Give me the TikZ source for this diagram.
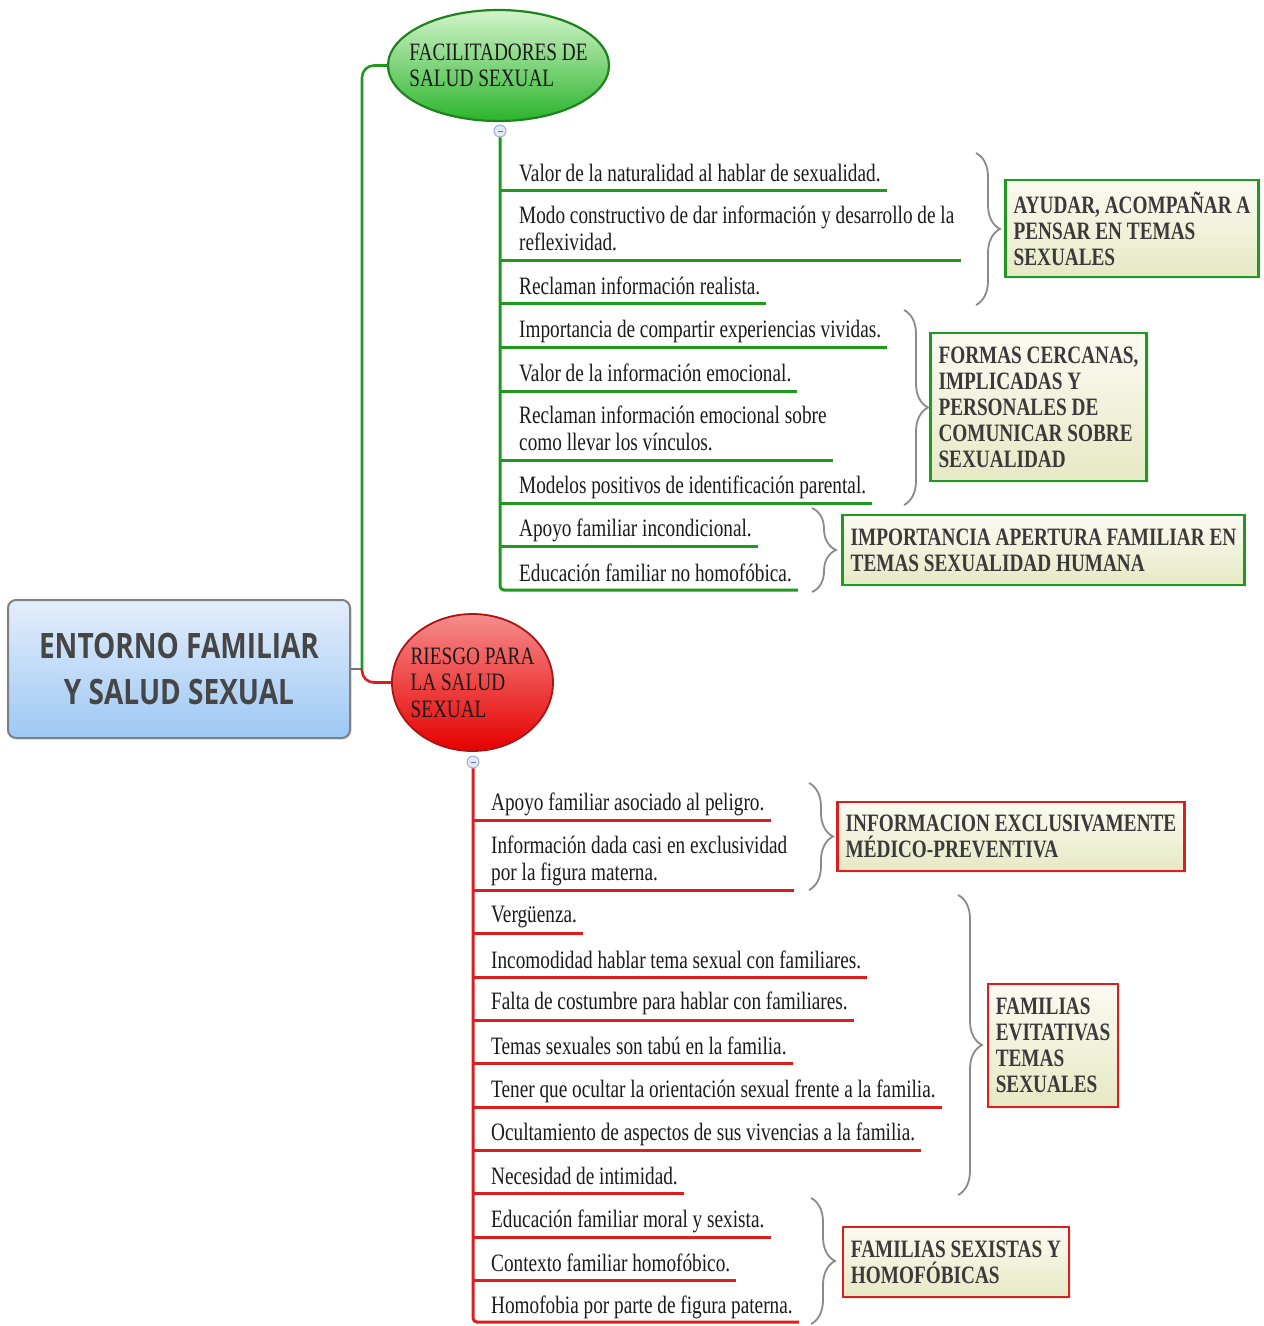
\documentclass[tikz,border=0pt]{standalone}
\usepackage{fontspec}
\setmainfont{Liberation Serif}[FakeStretch=0.77]
\newfontfamily\titlefont{Open Sans}[FakeStretch=0.8]
\usetikzlibrary{shapes.geometric,decorations.pathreplacing,shadows}
\definecolor{gline}{HTML}{1F9A1F}
\definecolor{rline}{HTML}{DC1E1E}
\definecolor{itemtxt}{HTML}{1A1A1A}
\definecolor{tagtxt}{HTML}{3A3A3A}
\definecolor{tagtop}{HTML}{FBFBF2}
\definecolor{tagbot}{HTML}{E6E9C4}
\definecolor{bracegray}{HTML}{8A8A8A}
\definecolor{titletxt}{HTML}{464646}
\definecolor{titletop}{HTML}{E4EEFB}
\definecolor{titlebot}{HTML}{9DC8F4}
\definecolor{ellborder}{HTML}{1E821E}
\definecolor{elltop}{HTML}{D2F4CA}
\definecolor{ellbot}{HTML}{2CB42C}
\definecolor{cirborder}{HTML}{AA1414}
\definecolor{cirtop}{HTML}{F68C8C}
\definecolor{cirmid}{HTML}{F02828}
\definecolor{cirbot}{HTML}{E60000}
\definecolor{btn}{HTML}{8CA5CD}
\definecolor{btndash}{HTML}{64789F}
\tikzset{
  itembase/.style={anchor=base west, inner sep=0, align=left, text=itemtxt,
    font=\fontsize{25}{27}\selectfont},
  gul/.style={draw=gline, line width=3},
  rul/.style={draw=rline, line width=3},
  tagbox/.style={line width=2.5, top color=tagtop, bottom color=tagbot,
    inner xsep=8, inner ysep=0, align=left, text=tagtxt,
    font=\bfseries\fontsize{25}{26}\selectfont,
    drop shadow={shadow xshift=2pt, shadow yshift=-2pt, opacity=0.15}},
  gtag/.style={tagbox, draw=gline},
  rtag/.style={tagbox, draw=rline},
  brc/.style={draw=bracegray, line width=1.8, decorate,
    decoration={brace, amplitude=24}},
  colbtn/.style={circle, draw=btn, line width=0.8, fill=btn!25!white,
    minimum size=12, inner sep=0},
  bubtext/.style={align=left, inner sep=0, text=itemtxt,
    font=\fontsize{25}{26.5}\selectfont}
}
\begin{document}
\begin{tikzpicture}[x=1pt,y=-1pt]
\useasboundingbox (0,0) rectangle (1264,1326);

% central title
\node[draw=black!50, line width=2, rounded corners=8,
      top color=titletop, bottom color=titlebot,
      minimum width=342, minimum height=138, align=center, text=titletxt,
      font=\titlefont\bfseries\fontsize{35}{46}\selectfont,
      drop shadow={shadow xshift=2pt, shadow yshift=-2pt, opacity=0.15}]
  (title) at (179,669) {ENTORNO FAMILIAR\\Y SALUD SEXUAL};

% main topics
\node[ellipse, draw=ellborder, line width=2.2,
      top color=elltop, bottom color=ellbot,
      minimum width=221, minimum height=111, inner sep=0] (fac) at (498.5,65.5) {};
\node[bubtext] (factxt) at (fac.center) {FACILITADORES DE\\SALUD SEXUAL};

\node[ellipse, draw=cirborder, line width=1.8,
      top color=cirtop, middle color=cirmid, bottom color=cirbot,
      minimum width=161, minimum height=137, inner sep=0] (risk) at (472.5,682.5) {};
\node[bubtext] (risktxt) at (risk.center) {RIESGO PARA\\LA SALUD\\SEXUAL};

% main connectors
\coordinate (j) at (362,669);
\draw[black!55, line width=2.2] (title.east) -- (j);
\draw[gline, line width=2.6, rounded corners=12] (j) |- (fac.west);
\draw[rline, line width=2.6, rounded corners=12] (j) |- (risk.west);

% collapse buttons
\node[colbtn] (gc) at (500,131) {};
\node[colbtn] (rc) at (473,762) {};
\draw[line width=0.8, btndash] ([xshift=-2.5pt]gc.center) -- ([xshift=2.5pt]gc.center);
\draw[line width=0.8, btndash] ([xshift=-2.5pt]rc.center) -- ([xshift=2.5pt]rc.center);

% green items
\node[itembase] (g1) at (519,181) {Valor de la naturalidad al hablar de sexualidad.};
\node[itembase] (g2) at (519,250) {Modo constructivo de dar información y desarrollo de la\\reflexividad.};
\node[itembase] (g3) at (519,294) {Reclaman información realista.};
\node[itembase] (g4) at (519,337) {Importancia de compartir experiencias vividas.};
\node[itembase] (g5) at (519,381) {Valor de la información emocional.};
\node[itembase] (g6) at (519,450) {Reclaman información emocional sobre\\como llevar los vínculos.};
\node[itembase] (g7) at (519,493) {Modelos positivos de identificación parental.};
\node[itembase] (g8) at (519,536) {Apoyo familiar incondicional.};
\node[itembase] (g9) at (519,581) {Educación familiar no homofóbica.};

\draw[gul, rounded corners=4] (gc.south) -- (500,590) -- ([xshift=6pt]g9.east |- 0,590);
\foreach \n/\y in {g1/190,g2/260,g3/303,g4/347,g5/391,g6/460,g7/503,g8/546}
  \draw[gul] (500,\y) -- ([xshift=6pt]\n.east |- 0,\y);

% red items
\node[itembase] (r1) at (491,810) {Apoyo familiar asociado al peligro.};
\node[itembase] (r2) at (491,880) {Información dada casi en exclusividad\\por la figura materna.};
\node[itembase] (r3) at (491,922) {Vergüenza.};
\node[itembase] (r4) at (491,968) {Incomodidad hablar tema sexual con familiares.};
\node[itembase] (r5) at (491,1009) {Falta de costumbre para hablar con familiares.};
\node[itembase] (r6) at (491,1054) {Temas sexuales son tabú en la familia.};
\node[itembase] (r7) at (491,1097) {Tener que ocultar la orientación sexual frente a la familia.};
\node[itembase] (r8) at (491,1140) {Ocultamiento de aspectos de sus vivencias a la familia.};
\node[itembase] (r9) at (491,1184) {Necesidad de intimidad.};
\node[itembase] (r10) at (491,1227) {Educación familiar moral y sexista.};
\node[itembase] (r11) at (491,1271) {Contexto familiar homofóbico.};
\node[itembase] (r12) at (491,1313) {Homofobia por parte de figura paterna.};

\draw[rul, rounded corners=4] (rc.south) -- (473,1322) -- ([xshift=6pt]r12.east |- 0,1322);
\foreach \n/\y in {r1/820,r2/890,r3/933,r4/977,r5/1020,r6/1063,r7/1107,r8/1150,r9/1193,r10/1237,r11/1280}
  \draw[rul] (473,\y) -- ([xshift=6pt]\n.east |- 0,\y);

% green summaries
\node[gtag, minimum height=97] (gt1) at (1132,228.5) {AYUDAR, ACOMPAÑAR A\\PENSAR EN TEMAS\\SEXUALES};
\node[gtag, minimum height=148] (gt2) at (1038.5,407) {FORMAS CERCANAS,\\IMPLICADAS Y\\PERSONALES DE\\COMUNICAR SOBRE\\SEXUALIDAD};
\node[gtag, minimum height=70] (gt3) at (1043.5,550) {IMPORTANCIA APERTURA FAMILIAR EN\\TEMAS SEXUALIDAD HUMANA};

% red summaries
\node[rtag, minimum height=69] (rt1) at (1011,836.5) {INFORMACION EXCLUSIVAMENTE\\MÉDICO-PREVENTIVA};
\node[rtag, minimum height=123] (rt2) at (1053,1045.5) {FAMILIAS\\EVITATIVAS\\TEMAS\\SEXUALES};
\node[rtag, minimum height=70] (rt3) at (956,1262) {FAMILIAS SEXISTAS Y\\HOMOFÓBICAS};

% braces
\coordinate (b1t) at (976,153);  \coordinate (b1b) at (976,305);
\coordinate (b2t) at (904,310);  \coordinate (b2b) at (904,505);
\coordinate (b3t) at (812,508);  \coordinate (b3b) at (812,592);
\coordinate (b4t) at (809,783);  \coordinate (b4b) at (809,890);
\coordinate (b5t) at (958,895);  \coordinate (b5b) at (958,1195);
\coordinate (b6t) at (811,1198); \coordinate (b6b) at (811,1324);
\draw[brc] (b1t) -- (b1b);
\draw[brc] (b2t) -- (b2b);
\draw[brc] (b3t) -- (b3b);
\draw[brc] (b4t) -- (b4b);
\draw[brc] (b5t) -- (b5b);
\draw[brc] (b6t) -- (b6b);
\end{tikzpicture}
\end{document}
